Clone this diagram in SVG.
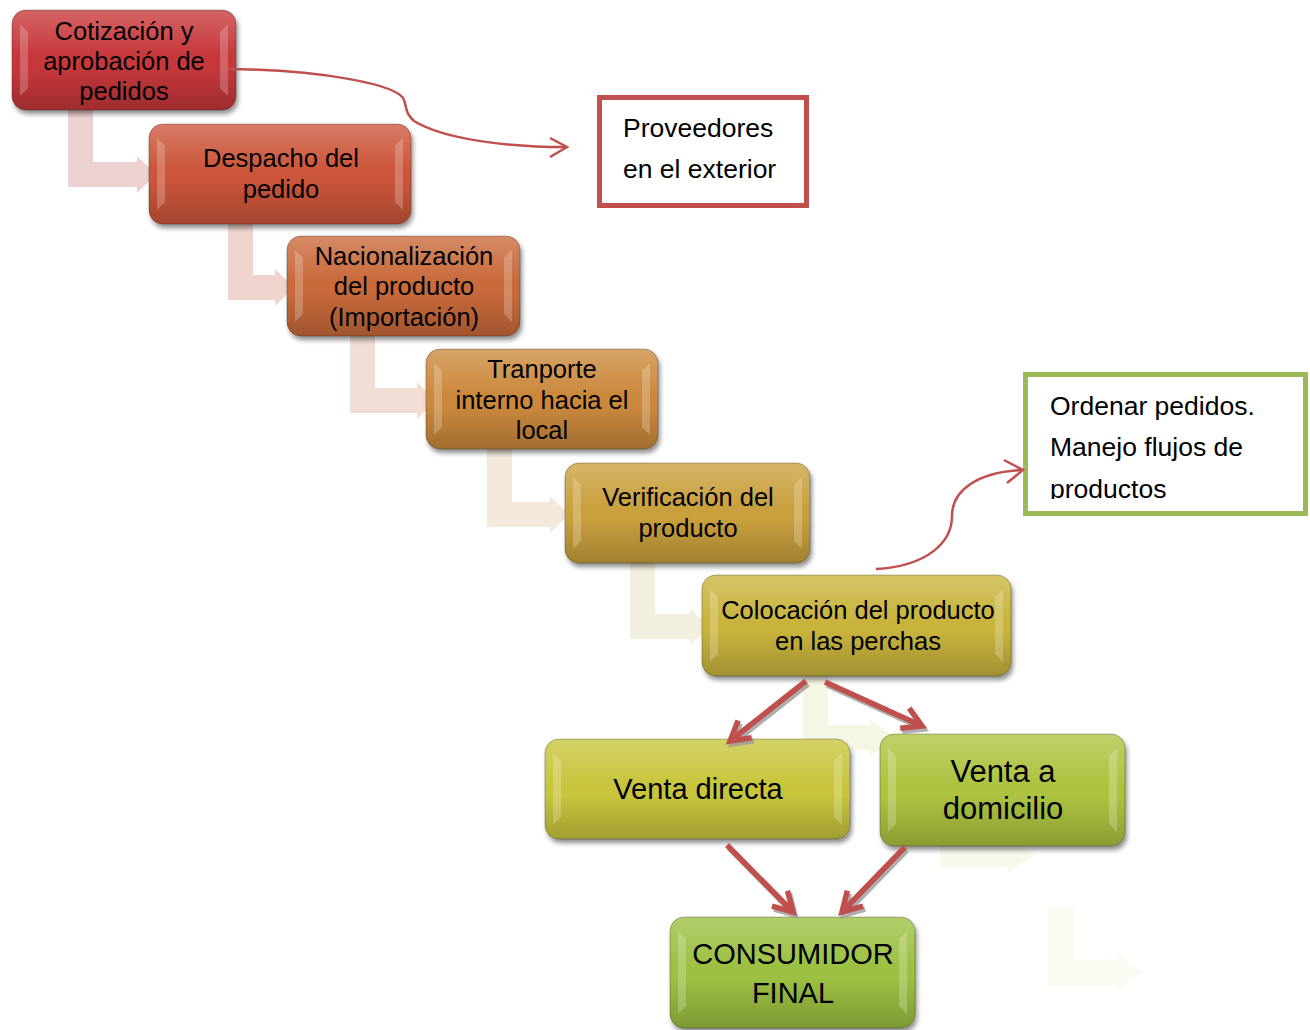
<svg xmlns="http://www.w3.org/2000/svg" width="1310" height="1030" viewBox="0 0 1310 1030">
<defs>
<filter id="shadow" x="-10%" y="-10%" width="125%" height="135%">
<feGaussianBlur in="SourceAlpha" stdDeviation="2.5"/>
<feOffset dx="2" dy="4" result="b"/>
<feComponentTransfer><feFuncA type="linear" slope="0.45"/></feComponentTransfer>
<feMerge><feMergeNode/><feMergeNode in="SourceGraphic"/></feMerge>
</filter>
<linearGradient id="vshade" x1="0" y1="0" x2="0" y2="1">
<stop offset="0" stop-color="#fff" stop-opacity="0.22"/>
<stop offset="0.45" stop-color="#fff" stop-opacity="0"/>
<stop offset="0.55" stop-color="#000" stop-opacity="0"/>
<stop offset="1" stop-color="#000" stop-opacity="0.2"/>
</linearGradient>
<clipPath id="clipG"><rect x="1028" y="377" width="275" height="122"/></clipPath>
</defs>
<style>
.base{filter:url(#shadow)}
.shade{fill:url(#vshade)}
.hl{fill:#fff;opacity:0.22}
.edge{fill:none;stroke:#000;stroke-opacity:0.25;stroke-width:1}
.t{font-family:"Liberation Sans",Arial,sans-serif;font-size:25.5px;fill:#000;text-anchor:middle}
.tb{font-family:"Liberation Sans",Arial,sans-serif;font-size:29px;fill:#000;text-anchor:middle}
.tl{font-family:"Liberation Sans",Arial,sans-serif;font-size:26.5px;fill:#000}
.red{fill:none;stroke:#c0504d;stroke-width:5.5;stroke-linejoin:miter}
.sh{fill:none;stroke:#9a9a9a;stroke-width:5.5;opacity:0.8}
.thin{fill:none;stroke:#c0504d;stroke-width:2.5}
</style>
<rect width="1310" height="1030" fill="#fff"/>
<g id="bent-arrows">
<polygon points="68,110 93,110 93,162 137,162 137,156 156,174.5 137,193 137,187 68,187" fill="#ecd2d1"/>
<polygon points="228,224 253,224 253,275 275,275 275,269 294,287.5 275,306 275,300 228,300" fill="#efd5ce"/>
<polygon points="350,336 375,336 375,388 417,388 417,382 436,400.5 417,419 417,413 350,413" fill="#f1ded4"/>
<polygon points="487,449 512,449 512,502 550,502 550,496 569,514.5 550,533 550,527 487,527" fill="#f3e8da"/>
<polygon points="630,563 655,563 655,614 690,614 690,608 709,626.5 690,645 690,639 630,639" fill="#f4f0e0"/>
<polygon points="803,676 828,676 828,725 870,725 870,719 895,737.5 870,756 870,750 803,750" fill="#f6f6e5"/>
<polygon points="940,760 965,760 965,842 1007,842 1007,836 1035,854.5 1007,873 1007,867 940,867" fill="#f7f9eb"/>
<polygon points="1048,908 1074,908 1074,960 1117,960 1117,953 1143,972 1117,991 1117,986 1048,986" fill="#fafcf1"/>
</g>
<g id="n1">
<rect class="base" x="12" y="10" width="224" height="100" rx="14" fill="#c7393b"/>
<rect class="shade" x="12" y="10" width="224" height="100" rx="14"/>
<path class="hl" d="M20,24 L28,32 L28,88 L20,96 Z"/><path class="hl" d="M228,24 L220,32 L220,88 L228,96 Z"/>
<rect class="edge" x="12" y="10" width="224" height="100" rx="14"/>
<text class="t" x="124" y="40">Cotización y</text>
<text class="t" x="124" y="70">aprobación de</text>
<text class="t" x="124" y="100">pedidos</text>
</g>
<g id="n2">
<rect class="base" x="149" y="124" width="262" height="100" rx="14" fill="#cc563b"/>
<rect class="shade" x="149" y="124" width="262" height="100" rx="14"/>
<path class="hl" d="M157,138 L165,146 L165,202 L157,210 Z"/><path class="hl" d="M403,138 L395,146 L395,202 L403,210 Z"/>
<rect class="edge" x="149" y="124" width="262" height="100" rx="14"/>
<text class="t" x="281" y="167">Despacho del</text>
<text class="t" x="281" y="198">pedido</text>
</g>
<g id="n3">
<rect class="base" x="287" y="236" width="233" height="100" rx="14" fill="#c96a3b"/>
<rect class="shade" x="287" y="236" width="233" height="100" rx="14"/>
<path class="hl" d="M295,250 L303,258 L303,314 L295,322 Z"/><path class="hl" d="M512,250 L504,258 L504,314 L512,322 Z"/>
<rect class="edge" x="287" y="236" width="233" height="100" rx="14"/>
<text class="t" x="404" y="265">Nacionalización</text>
<text class="t" x="404" y="295">del producto</text>
<text class="t" x="404" y="326">(Importación)</text>
</g>
<g id="n4">
<rect class="base" x="426" y="349" width="232" height="100" rx="14" fill="#cb893e"/>
<rect class="shade" x="426" y="349" width="232" height="100" rx="14"/>
<path class="hl" d="M434,363 L442,371 L442,427 L434,435 Z"/><path class="hl" d="M650,363 L642,371 L642,427 L650,435 Z"/>
<rect class="edge" x="426" y="349" width="232" height="100" rx="14"/>
<text class="t" x="542" y="378">Tranporte</text>
<text class="t" x="542" y="409">interno hacia el</text>
<text class="t" x="542" y="439">local</text>
</g>
<g id="n5">
<rect class="base" x="565" y="463" width="245" height="100" rx="14" fill="#c9a03e"/>
<rect class="shade" x="565" y="463" width="245" height="100" rx="14"/>
<path class="hl" d="M573,477 L581,485 L581,541 L573,549 Z"/><path class="hl" d="M802,477 L794,485 L794,541 L802,549 Z"/>
<rect class="edge" x="565" y="463" width="245" height="100" rx="14"/>
<text class="t" x="688" y="506">Verificación del</text>
<text class="t" x="688" y="537">producto</text>
</g>
<g id="n6">
<rect class="base" x="702" y="575" width="309" height="101" rx="14" fill="#c8b43e"/>
<rect class="shade" x="702" y="575" width="309" height="101" rx="14"/>
<path class="hl" d="M710,589 L718,597 L718,654 L710,662 Z"/><path class="hl" d="M1003,589 L995,597 L995,654 L1003,662 Z"/>
<rect class="edge" x="702" y="575" width="309" height="101" rx="14"/>
<text class="t" x="858" y="619">Colocación del producto</text>
<text class="t" x="858" y="650">en las perchas</text>
</g>
<g id="n7">
<rect class="base" x="545" y="739" width="305" height="100" rx="14" fill="#c8c53e"/>
<rect class="shade" x="545" y="739" width="305" height="100" rx="14"/>
<path class="hl" d="M553,753 L561,761 L561,817 L553,825 Z"/><path class="hl" d="M842,753 L834,761 L834,817 L842,825 Z"/>
<rect class="edge" x="545" y="739" width="305" height="100" rx="14"/>
<text class="tb" x="698" y="799">Venta directa</text>
</g>
<g id="n8">
<rect class="base" x="880" y="734" width="245" height="112" rx="14" fill="#adc33f"/>
<rect class="shade" x="880" y="734" width="245" height="112" rx="14"/>
<path class="hl" d="M888,748 L896,756 L896,824 L888,832 Z"/><path class="hl" d="M1117,748 L1109,756 L1109,824 L1117,832 Z"/>
<rect class="edge" x="880" y="734" width="245" height="112" rx="14"/>
<text class="tb" x="1003" y="782" style="font-size:31px">Venta a</text>
<text class="tb" x="1003" y="819" style="font-size:31px">domicilio</text>
</g>
<g id="n9">
<rect class="base" x="670" y="917" width="245" height="111" rx="14" fill="#9cc042"/>
<rect class="shade" x="670" y="917" width="245" height="111" rx="14"/>
<path class="hl" d="M678,931 L686,939 L686,1006 L678,1014 Z"/><path class="hl" d="M907,931 L899,939 L899,1006 L907,1014 Z"/>
<rect class="edge" x="670" y="917" width="245" height="111" rx="14"/>
<text class="tb" x="793" y="964">CONSUMIDOR</text>
<text class="tb" x="793" y="1003">FINAL</text>
</g>
<g id="proveedores">
<rect x="599.5" y="97.5" width="207" height="108" fill="#fff" stroke="#c0504d" stroke-width="5"/>
<text class="tl" x="623" y="137">Proveedores</text>
<text class="tl" x="623" y="178">en el exterior</text>
</g>
<g id="ordenar">
<rect x="1025.5" y="374.5" width="280" height="139" fill="#fff" stroke="#9bbb59" stroke-width="5"/>
<g clip-path="url(#clipG)">
<text class="tl" x="1050" y="415">Ordenar pedidos.</text>
<text class="tl" x="1050" y="456">Manejo flujos de</text>
<text class="tl" x="1050" y="498">productos</text>
</g>
</g>
<g id="connectors">
<g transform="translate(2,3)">
<path class="sh" d="M806,681 L730,741 M738.1,720.6 L730,741 L751.7,737.8"/>
<path class="sh" d="M825,682 L922,726 M909.2,708.2 L922,726 L900.2,728.2"/>
<path class="sh" d="M727,845 L793,912 M787.5,890.8 L793,912 L771.9,906.2"/>
<path class="sh" d="M905,847 L842,912 M847.3,890.7 L842,912 L863.1,906.1"/>
</g>
<path class="red" d="M806,681 L730,741 M738.1,720.6 L730,741 L751.7,737.8"/>
<path class="red" d="M825,682 L922,726 M909.2,708.2 L922,726 L900.2,728.2"/>
<path class="red" d="M727,845 L793,912 M787.5,890.8 L793,912 L771.9,906.2"/>
<path class="red" d="M905,847 L842,912 M847.3,890.7 L842,912 L863.1,906.1"/>
<path class="thin" d="M228,69 C320,70 398,84 404,100 C407,108 405,113 414,121 C445,140 510,147 566,147"/>
<path class="thin" d="M550,138 L567,147 L550,157"/>
<path class="thin" d="M876,569 C928,566 952,542 952,516 C952,490 978,472 1022,470"/>
<path class="thin" d="M1004,460 L1023,470 L1007,483"/>
</g>
</svg>
